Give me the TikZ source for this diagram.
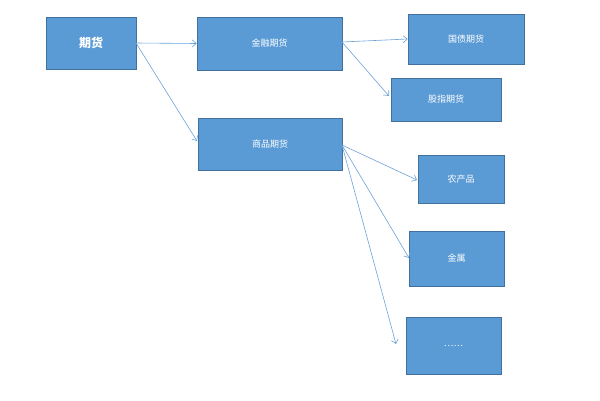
\documentclass[tikz,border=0pt]{standalone}
\usepackage{fontspec}
\setmainfont{Noto Sans CJK SC}
\usetikzlibrary{arrows.meta}
\definecolor{boxfill}{HTML}{5B9BD5}
\definecolor{boxline}{HTML}{41719C}
\definecolor{arr}{HTML}{6FA3D8}
\begin{document}
\begin{tikzpicture}[x=1pt,y=-1pt,
  bx/.style={draw=boxline,fill=boxfill,text=white,font=\fontsize{9}{10}\selectfont,line width=0.6pt},
  ar/.style={draw=arr,line width=0.6pt,-{Straight Barb[length=4pt,width=7pt]}}]
\useasboundingbox[fill=white] (0,0) rectangle (600,400);
\node[bx,minimum width=90pt,minimum height=52pt,font=\bfseries\fontsize{12}{14}\selectfont] (qh) at (91,43) {期货};
\node[bx,minimum width=145pt,minimum height=53pt] (jr) at (269.5,43.5) {金融期货};
\node[bx,minimum width=144pt,minimum height=52pt] (sp) at (270,144) {商品期货};
\node[bx,minimum width=116pt,minimum height=50pt] (gz) at (466,39) {国债期货};
\node[bx,minimum width=110pt,minimum height=43pt] (gs) at (446,99.5) {股指期货};
\node[bx,minimum width=86pt,minimum height=48pt] (nc) at (461,179) {农产品};
\node[bx,minimum width=95pt,minimum height=55pt] (js) at (456.5,258.5) {金属};
\node[bx,minimum width=95pt,minimum height=57pt] (dd) at (453.5,345.5) {……};
\coordinate (a) at (136,43);
\coordinate (b) at (342,42);
\coordinate (c) at (342,145);
\draw[ar] (a) -- (jr.west);
\draw[ar] (a) -- (197,141);
\draw[ar] (b) -- (gz.west);
\draw[ar] (b) -- (389,96);
\draw[ar] (c) -- (417,180);
\draw[ar] (c) -- (409,258);
\draw[ar] (c) -- (396,344);
\end{tikzpicture}
\end{document}
